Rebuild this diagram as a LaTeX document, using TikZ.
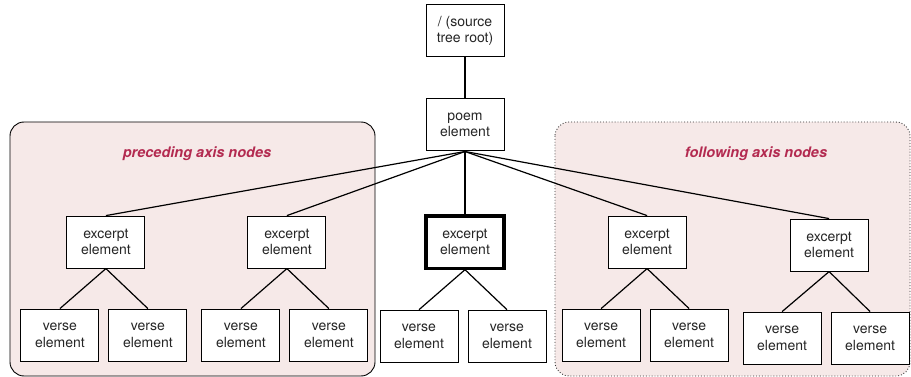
\documentclass[tikz,border=0pt]{standalone}
\usepackage{fontspec}
\setmainfont{TeX Gyre Heros}
\usetikzlibrary{positioning}
\definecolor{regionpink}{HTML}{F6E9E8}
\definecolor{axisred}{HTML}{B32A50}

\begin{document}
\begin{tikzpicture}[
    x=1pt, y=1pt,
    every node/.style={rectangle, draw, align=center, fill=white, line width=1pt,
        minimum width=78pt, minimum height=52pt, inner sep=2pt,
        font=\fontsize{14}{16.5}\selectfont, text=black!85},
    focus/.style={line width=3.2pt},
    edge/.style={line width=1.2pt},
    region/.style={fill=regionpink, rounded corners=14pt, line width=0.9pt},
    axislabel/.style={draw=none, fill=none, minimum width=0pt, minimum height=0pt,
        font=\fontsize{14.5}{16}\bfseries\itshape\selectfont, text=axisred}
]
\useasboundingbox (0,0) rectangle (911,-377);
% axis regions
\draw [region] (10,-122) rectangle (375,-376);
\draw [region, dotted, draw=black!80] (555,-122) rectangle (910,-376);
\node [axislabel] (preceding) at (197,-154) {preceding axis nodes};
\node [axislabel] (following) at (756,-154) {following axis nodes};

% tree
\node (root) at (465,-31) {/ (source\\tree root)};
\node (poem) [below=41pt of root] {poem\\element};
\node [focus] (excerptC) [below=63pt of poem] {excerpt\\element};
\node (excerptB) [left=98pt of excerptC] {excerpt\\element};
\node (excerptA) [left=102pt of excerptB] {excerpt\\element};
\node (excerptD) [right=102pt of excerptC] {excerpt\\element};
\node (excerptE) [right=103pt of excerptD, yshift=-3pt] {excerpt\\element};

\node (verseA1) [below=40pt of excerptA, xshift=-46pt] {verse\\element};
\node (verseA2) [below=40pt of excerptA, xshift=42pt] {verse\\element};
\node (verseB1) [below=40pt of excerptB, xshift=-46pt] {verse\\element};
\node (verseB2) [below=40pt of excerptB, xshift=42pt] {verse\\element};
\node (verseC1) [below=40pt of excerptC, xshift=-46pt] {verse\\element};
\node (verseC2) [below=40pt of excerptC, xshift=42pt] {verse\\element};
\node (verseD1) [below=40pt of excerptD, xshift=-46pt] {verse\\element};
\node (verseD2) [below=40pt of excerptD, xshift=42pt] {verse\\element};
\node (verseE1) [below=40pt of excerptE, xshift=-47pt] {verse\\element};
\node (verseE2) [below=40pt of excerptE, xshift=41pt] {verse\\element};

\draw [edge] (root) -- (poem);
\draw [edge] (poem.south) -- (excerptA.north);
\draw [edge] (poem.south) -- (excerptB.north);
\draw [edge] (poem.south) -- (excerptC.north);
\draw [edge] (poem.south) -- (excerptD.north);
\draw [edge] (poem.south) -- (excerptE.north);
\draw [edge] (excerptA.south) -- (verseA1.north);
\draw [edge] (excerptA.south) -- (verseA2.north);
\draw [edge] (excerptB.south) -- (verseB1.north);
\draw [edge] (excerptB.south) -- (verseB2.north);
\draw [edge] (excerptC.south) -- (verseC1.north);
\draw [edge] (excerptC.south) -- (verseC2.north);
\draw [edge] (excerptD.south) -- (verseD1.north);
\draw [edge] (excerptD.south) -- (verseD2.north);
\draw [edge] (excerptE.south) -- (verseE1.north);
\draw [edge] (excerptE.south) -- (verseE2.north);
\end{tikzpicture}
\end{document}
